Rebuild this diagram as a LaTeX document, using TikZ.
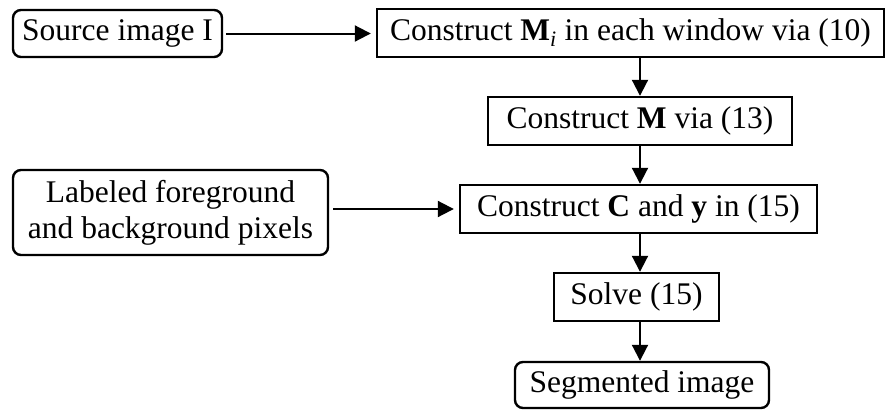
\documentclass[tikz,border=0pt]{standalone}
\usepackage{fontspec}
\setmainfont{Liberation Serif}
\usetikzlibrary{arrows.meta}
\begin{document}
\begin{tikzpicture}[x=1pt,y=-1pt,
  base/.style={draw=black,line width=2.4pt,inner sep=0pt,align=center,
    font=\fontsize{31.5}{36}\selectfont,text=black},
  rbox/.style={base,rounded corners=8pt},
  sbox/.style={base},
  arr/.style={line width=2pt,-{Triangle[length=16pt,width=16pt]}}]
\useasboundingbox (0,0) rectangle (886,410);
\node[rbox,minimum width=209pt,minimum height=47pt] (src) at (117.5,33.5) {Source image I};
\node[sbox,minimum width=507pt,minimum height=48pt] (mi) at (630.5,33) {Construct \textbf{M}\textsubscript{\textit{i}} in each window via (10)};
\node[sbox,minimum width=304pt,minimum height=48pt] (m) at (640,121) {Construct \textbf{M} via (13)};
\node[rbox,minimum width=315pt,minimum height=85pt] (lab) at (170.5,212.5) {Labeled foreground\\and background pixels};
\node[sbox,minimum width=357pt,minimum height=48pt] (c) at (638.5,209) {Construct \textbf{C} and \textbf{y} in (15)};
\node[sbox,minimum width=165pt,minimum height=48pt] (solve) at (636.5,297) {Solve (15)};
\node[rbox,minimum width=254pt,minimum height=46pt] (seg) at (642,385) {Segmented image};
\coordinate (colx) at (640,0);
\draw[arr,shorten <=3pt,shorten >=5pt] (src.east) -- (src.east -| mi.west);
\draw[arr,shorten <=4pt,shorten >=5pt] (lab.east |- c.west) -- (c.west);
\draw[arr] (mi.south -| colx) -- (m.north -| colx);
\draw[arr] (m.south -| colx) -- (c.north -| colx);
\draw[arr] (c.south -| colx) -- (solve.north -| colx);
\draw[arr] (solve.south -| colx) -- (seg.north -| colx);
\end{tikzpicture}
\end{document}
